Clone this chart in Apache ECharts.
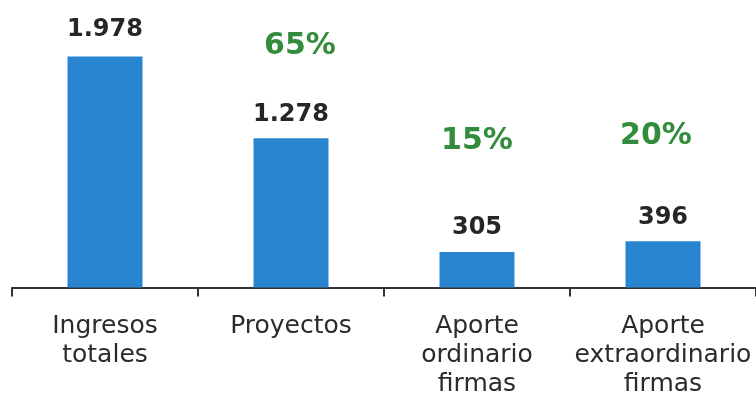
<!DOCTYPE html>
<html>
<head>
<meta charset="utf-8">
<script src="https://cdn.jsdelivr.net/npm/echarts@6/dist/echarts.min.js"></script>
<style>
html,body{margin:0;padding:0;background:#fff;}
#c{width:756px;height:402px;}
</style>
</head>
<body>
<div id="c"></div>
<script>
var categories = ['Ingresos\ntotales', 'Proyectos', 'Aporte\nordinario\nfirmas', 'Aporte\nextraordinario\nfirmas'];
var values = [1978, 1278, 305, 396];
var shares = [null, 65, 15, 20];

var shareOffsets = [[0, 0], [9, -92], [0, -111], [-7, -105]];
var valueLabelDistances = [15, 12, 12, 12];

function fmtThousands(v) {
  return String(v).replace(/\B(?=(\d{3})+(?!\d))/g, '.');
}

var barData = [];
var shareData = [];
for (var i = 0; i < categories.length; i++) {
  barData.push({ value: values[i], label: { distance: valueLabelDistances[i] } });
  if (shares[i] != null) {
    shareData.push({
      value: [i, values[i]],
      share: shares[i],
      label: { offset: shareOffsets[i] }
    });
  }
}

var chart = echarts.init(document.getElementById('c'), null, { renderer: 'canvas' });
chart.setOption({
  animation: false,
  backgroundColor: '#ffffff',
  grid: { left: 12, right: -5, top: 54, bottom: 114.5, containLabel: false },
  xAxis: {
    type: 'category',
    data: categories,
    axisLine: { show: true, lineStyle: { color: '#333333', width: 2 } },
    axisTick: { show: true, alignWithLabel: false, length: 9, lineStyle: { color: '#333333', width: 2 } },
    axisLabel: {
      interval: 0,
      margin: 24,
      fontFamily: 'DejaVu Sans',
      fontSize: 25,
      lineHeight: 29,
      color: '#2b2b2b'
    }
  },
  yAxis: {
    type: 'value',
    min: 0,
    max: 2000,
    show: false,
    splitLine: { show: false }
  },
  series: [
    {
      type: 'bar',
      data: barData,
      barWidth: 75,
      itemStyle: { color: '#2a85d0' },
      label: {
        show: true,
        position: 'top',
        fontFamily: 'DejaVu Sans',
        fontWeight: 'bold',
        fontSize: 24,
        color: '#262626',
        formatter: function (p) { return fmtThousands(p.value); }
      }
    },
    {
      type: 'scatter',
      data: shareData,
      symbolSize: 2,
      itemStyle: { color: 'rgba(0,0,0,0)', opacity: 1 },
      silent: true,
      z: 5,
      label: {
        show: true,
        position: 'inside',
        opacity: 1,
        fontFamily: 'DejaVu Sans',
        fontWeight: 'bold',
        fontSize: 30,
        color: '#338c3c',
        formatter: function (p) { return p.data.share + '%'; }
      }
    }
  ]
});
</script>
</body>
</html>
